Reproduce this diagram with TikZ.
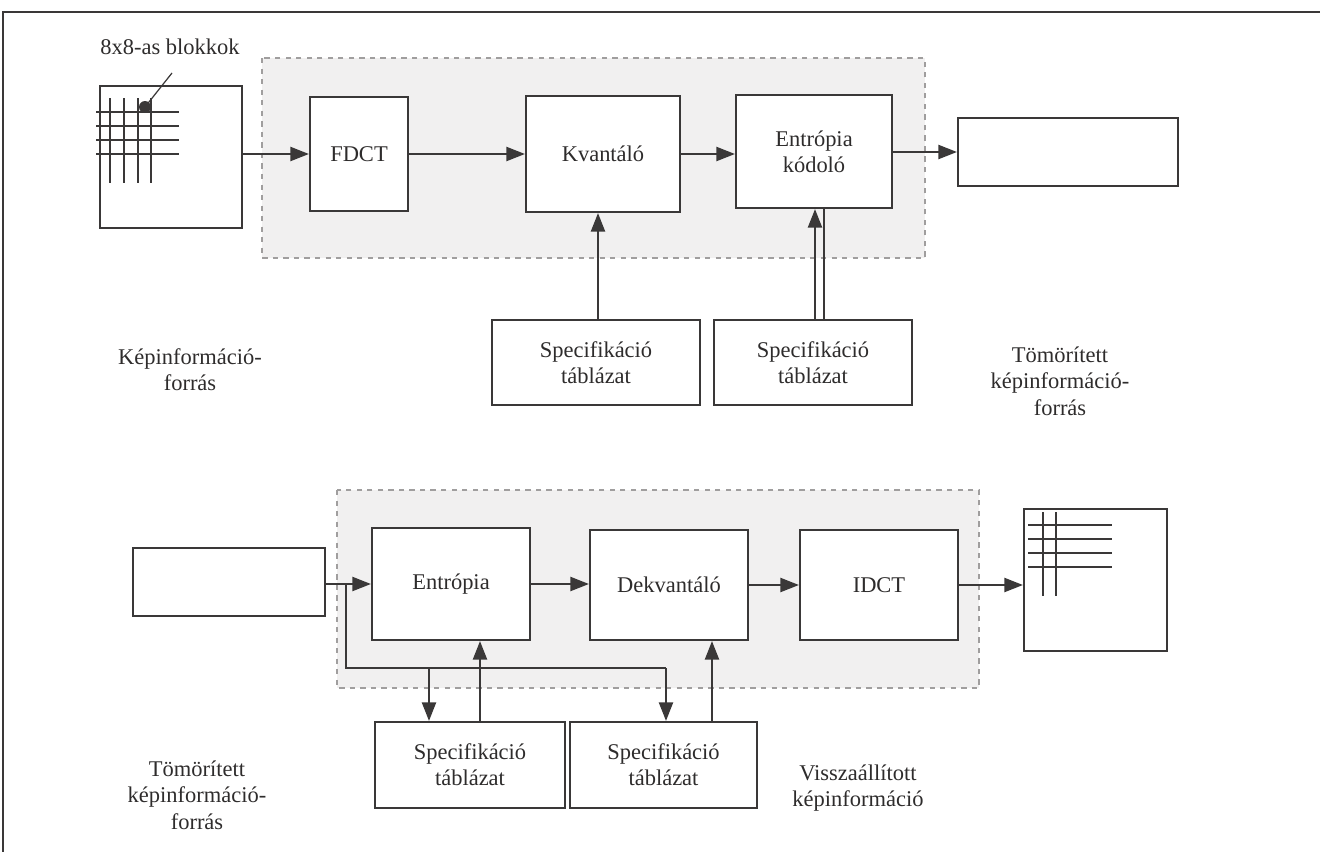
\documentclass[tikz,border=0pt]{standalone}
\usepackage{fontspec}
\setmainfont{Liberation Serif}
\usepackage{tikz}
\usetikzlibrary{arrows.meta, calc, positioning}
\usepackage{xcolor}

\definecolor{vonal}{HTML}{3A3838}
\definecolor{betu}{HTML}{2E2C2C}
\definecolor{hatter}{HTML}{F1F0F0}
\definecolor{keret}{HTML}{A09E9E}

\tikzset{
  blokk/.style={draw=vonal, line width=1.25pt, fill=white, text=betu, align=center, inner sep=0pt},
  felirat/.style={text=betu, align=center, inner sep=0pt},
  nyil/.style={draw=vonal, line width=1.25pt, -{Triangle[length=0.37cm, width=0.28cm]}},
  vonalka/.style={draw=vonal, line width=1.25pt},
  racs/.style={draw=vonal, line width=0.9pt},
  arnyek/.style={fill=hatter, draw=keret, dashed, line width=0.6pt}
}

\begin{document}
\begin{tikzpicture}[x=0.02cm, y=-0.02cm, font=\fontsize{12.8}{15}\selectfont]
    \useasboundingbox (0,0) rectangle (1320,852);

    % keret
    \draw[vonal, line width=1.2pt] (3,852) -- (3,12) -- (1320,12);

    % ---- tomorites ----
    \draw[arnyek] (262,58) rectangle (925,258);

    \node[blokk, minimum width=2.84cm, minimum height=2.84cm] (forras) at (171,157) {};
    \node[blokk, minimum width=1.96cm, minimum height=2.28cm] (fdct) at (359,154) {FDCT};
    \node[blokk, minimum width=3.08cm, minimum height=2.32cm] (kvant) at (603,154) {Kvantáló};
    \node[blokk, minimum width=3.12cm, minimum height=2.26cm] (entkod) at (814,151.5) {Entrópia\\kódoló};
    \node[blokk, minimum width=4.40cm, minimum height=1.36cm] (tomor) at (1068,152) {};
    \node[blokk, minimum width=4.16cm, minimum height=1.70cm] (spec1) at (596,362.5) {Specifikáció\\táblázat};
    \node[blokk, minimum width=3.96cm, minimum height=1.70cm] (spec2) at (813,362.5) {Specifikáció\\táblázat};

    % 8x8 racs
    \foreach \y in {112,126,140,154} \draw[racs] (96,\y) -- (179,\y);
    \foreach \x in {110,124,138,151} \draw[racs] (\x,98) -- (\x,183);
    \fill[vonal] (145,107) circle[radius=0.12cm];
    \node[felirat] (blokkok) at (170,47) {8x8-as blokkok};
    \draw[vonal, line width=0.7pt] (145,107) -- (172,73);

    \draw[nyil] (forras.east |- fdct) -- (fdct);
    \draw[nyil] (fdct) -- (kvant);
    \draw[nyil] (kvant.east) -- (kvant.east -| entkod.west);
    \draw[nyil] (entkod.east |- tomor) -- (tomor);
    \draw[nyil] ([xshift=0.04cm]spec1.north) -- ([xshift=0.04cm]spec1.north |- kvant.south);
    \draw[nyil] ([xshift=0.04cm]spec2.north) -- ([xshift=0.04cm]spec2.north |- entkod.south);
    \draw[vonal, line width=0.6pt] ([xshift=0.22cm]spec2.north) -- ([xshift=0.22cm]spec2.north |- entkod.south);

    \node[felirat] (kepinf) at (190,370) {Képinformáció-\\forrás};
    \node[felirat] (tomorf) at (1060,381) {Tömörített\\képinformáció-\\forrás};

    % ---- visszaallitas ----
    \draw[arnyek] (337,490) rectangle (979,688);

    \node[blokk, minimum width=3.84cm, minimum height=1.36cm] (bemenet) at (229,582) {};
    \node[blokk, minimum width=3.16cm, minimum height=2.24cm] (entdek) at (451,584) {Entrópia};
    \node[blokk, minimum width=3.16cm, minimum height=2.20cm] (dekv) at (669,585) {Dekvantáló};
    \node[blokk, minimum width=3.16cm, minimum height=2.20cm] (idct) at (879,585) {IDCT};
    \node[blokk, minimum width=2.86cm, minimum height=2.84cm] (kimenet) at (1095.5,580) {};
    \node[blokk, minimum width=3.80cm, minimum height=1.72cm] (spec3) at (470,765) {Specifikáció\\táblázat};
    \node[blokk, minimum width=3.74cm, minimum height=1.72cm] (spec4) at (663.5,765) {Specifikáció\\táblázat};

    % visszaallitott racs
    \foreach \y in {525,539,553,567} \draw[racs] (1028,\y) -- (1112,\y);
    \foreach \x in {1043,1056} \draw[racs] (\x,512) -- (\x,596);

    \draw[nyil] (bemenet.east |- entdek) -- (entdek);
    \draw[nyil] (entdek) -- (entdek -| dekv.west);
    \draw[nyil] (dekv) -- (idct);
    \draw[nyil] (idct.east) -- (idct.east -| kimenet.west);

    \coordinate (ag) at (346,584);
    \coordinate (le1) at (429,668);
    \coordinate (le2) at (666,668);
    \draw[vonalka] (ag) |- (le2);
    \draw[nyil] (le1) -- (le1 |- spec3.north);
    \draw[nyil] (le2) -- (le2 |- spec4.north);
    \draw[nyil] ([xshift=0.2cm]spec3.north) -- ([xshift=0.2cm]spec3.north |- entdek.south);
    \draw[nyil] ([xshift=0.97cm]spec4.north) -- ([xshift=0.97cm]spec4.north |- dekv.south);

    \node[felirat] (tomorb) at (197,795) {Tömörített\\képinformáció-\\forrás};
    \node[felirat] (vissza) at (858,788) {Visszaállított\\képinformáció};
\end{tikzpicture}
\end{document}
